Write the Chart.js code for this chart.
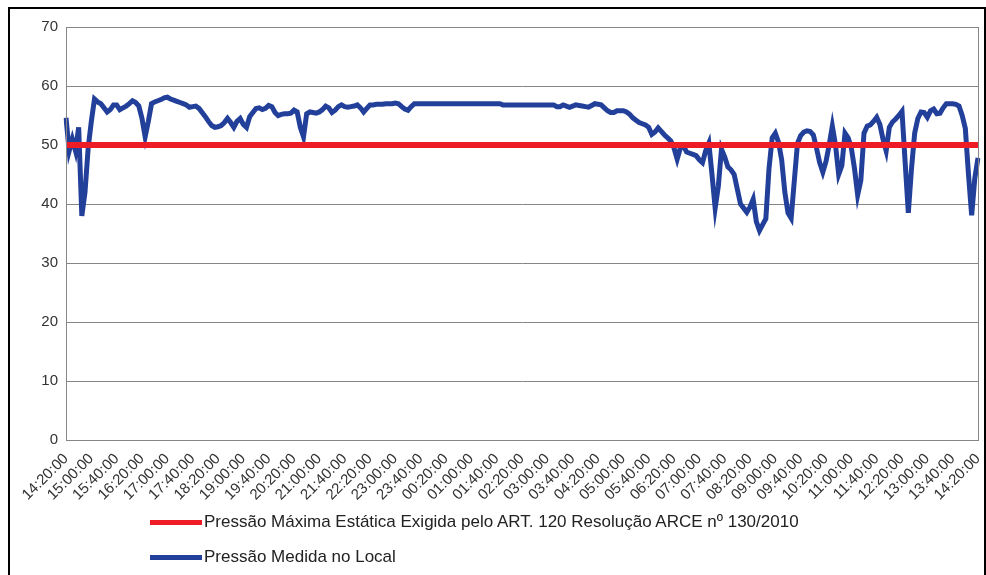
<!DOCTYPE html>
<html>
<head>
<meta charset="utf-8">
<script src="https://cdn.jsdelivr.net/npm/chart.js@4/dist/chart.umd.min.js"></script>
<style>
  html, body { margin: 0; padding: 0; background: #fff; }
  #wrap { position: relative; width: 986px; height: 575px; overflow: hidden; }
  #frame { position: absolute; left: 8px; top: 7px; width: 974px; height: 600px;
           border: 2px solid #000; }
  #chart { position: absolute; left: 0; top: 0; }
  #legend { position: absolute; left: 150px; top: 510px; font-family: "Liberation Sans", Arial, sans-serif;
            font-size: 17px; color: #222; }
  .item { display: flex; align-items: center; height: 24px; margin-bottom: 11px; }
  .swatch { width: 52px; height: 5px; margin-right: 2px; }
</style>
</head>
<body>
<div id="wrap">
  <div id="frame"></div>
  <canvas id="chart" width="986" height="575"></canvas>
  <div id="legend"></div>
</div>
<script>
// 5-minute readings from 14:20 to 14:20 next day
const startTime = '14:20:00'
const stepMinutes = 5

const limitLabel = 'Pressão Máxima Estática Exigida pelo ART. 120 Resolução ARCE nº 130/2010'
const measuredLabel = 'Pressão Medida no Local'
const limitValue = 50

const measured = [
  54.6, 49, 51, 49, 53, 38, 42, 49.5, 54, 57.8,
  57.3, 57, 56.3, 55.6, 56, 56.8, 56.8, 56, 56.3, 56.6,
  57, 57.5, 57.2, 56.6, 54.5, 51.4, 54, 57, 57.3, 57.5,
  57.7, 58, 58.1, 57.8, 57.6, 57.4, 57.2, 57, 56.8, 56.4,
  56.5, 56.6, 56.2, 55.5, 54.8, 54, 53.3, 53, 53.1, 53.3,
  53.8, 54.5, 53.8, 53, 54, 54.5, 53.5, 53, 54.8, 55.5,
  56.2, 56.3, 56, 56.2, 56.7, 56.5, 55.5, 55, 55.2, 55.3,
  55.3, 55.4, 55.9, 55.6, 53, 51.4, 55.3, 55.6, 55.5, 55.4,
  55.6, 56, 56.6, 56.3, 55.5, 55.9, 56.5, 56.8, 56.5, 56.4,
  56.5, 56.6, 56.8, 56.3, 55.6, 56.2, 56.8, 56.8, 56.9, 56.9,
  56.9, 57, 57, 57, 57.1, 57, 56.5, 56.1, 55.9, 56.5,
  57, 57, 57, 57, 57, 57, 57, 57, 57, 57,
  57, 57, 57, 57, 57, 57, 57, 57, 57, 57,
  57, 57, 57, 57, 57, 57, 57, 57, 56.8, 56.8,
  56.8, 56.8, 56.8, 56.8, 56.8, 56.8, 56.8, 56.8, 56.8, 56.8,
  56.8, 56.8, 56.8, 56.8, 56.8, 56.5, 56.5, 56.8, 56.6, 56.4,
  56.6, 56.8, 56.7, 56.6, 56.5, 56.4, 56.7, 57, 56.9, 56.8,
  56.3, 55.8, 55.5, 55.5, 55.8, 55.8, 55.8, 55.6, 55.2, 54.6,
  54.2, 53.8, 53.6, 53.4, 53, 51.8, 52.2, 52.9, 52.3, 51.7,
  51.2, 50.7, 49.5, 47.6, 49.5, 49.8, 48.8, 48.6, 48.4, 48.2,
  47.5, 47, 49, 50.3, 45, 39.3, 43, 49.3, 48, 46.3,
  45.8, 45, 42.5, 40, 39.3, 38.6, 39.5, 40.8, 37, 35.5,
  36.5, 37.5, 46, 51.2, 52, 50.5, 47.5, 42, 38.5, 37.6,
  44, 50.3, 51.6, 52.2, 52.4, 52.3, 51.7, 49.5, 47, 45.4,
  47.2, 50, 53.2, 50, 45, 46.5, 52, 51.2, 49.5, 46,
  41.5, 44, 52, 53.2, 53.4, 54, 54.7, 53.5, 51, 49,
  53, 53.9, 54.4, 55, 55.7, 47, 38.5, 46, 52, 54.5,
  55.6, 55.5, 54.7, 55.8, 56.1, 55.3, 55.4, 56.3, 57, 57,
  57, 56.9, 56.6, 55, 52.8, 45, 38.1, 44.4, 47.8
]

const yTicks = [0, 10, 20, 30, 40, 50, 60, 70]
const labelEvery = 8 // one label per 40 minutes

const labels = measured.map((v, i) => {
  const [h, m] = startTime.split(':').map(Number)
  const t = (h * 60 + m + i * stepMinutes) % 1440
  return String(Math.floor(t / 60)).padStart(2, '0') + ':' + String(t % 60).padStart(2, '0') + ':00'
})
const limit = measured.map(() => limitValue)

const frameBox = {
  id: 'frameBox',
  afterDraw(chart) {
    const { ctx, chartArea } = chart
    ctx.save()
    ctx.strokeStyle = '#868686'
    ctx.lineWidth = 1
    ctx.strokeRect(chartArea.left + 0.5, chartArea.top + 0.5, chartArea.right - chartArea.left, chartArea.bottom - chartArea.top)
    ctx.restore()
  }
}

const chart = new Chart(document.getElementById('chart'), {
  type: 'line',
  data: {
    labels: labels,
    datasets: [
      { label: limitLabel, data: limit, borderColor: '#ee1c25', borderWidth: 6, pointRadius: 0, tension: 0 },
      { label: measuredLabel, data: measured, borderColor: '#22409a', borderWidth: 5, pointRadius: 0, tension: 0 }
    ]
  },
  options: {
    responsive: false,
    animation: false,
    layout: { padding: { top: 27, right: 8, bottom: 60, left: 0 } },
    plugins: { legend: { display: false }, tooltip: { enabled: false } },
    scales: {
      x: {
        offset: false,
        grid: { display: false, drawTicks: false },
        border: { color: '#868686' },
        afterFit(scale) {
          scale.height = 75
          scale.paddingLeft = 0
          scale.paddingRight = 0
        },
        ticks: {
          autoSkip: false, maxRotation: 45, minRotation: 45, padding: 10,
          color: '#333', font: { family: 'Liberation Sans', size: 15 },
          callback(val, i) { return i % labelEvery === 0 ? labels[i] : '' }
        }
      },
      y: {
        min: 0, max: 70,
        afterFit(scale) { scale.width = 66 },
        afterBuildTicks(scale) { scale.ticks = yTicks.map(v => ({ value: v })) },
        grid: { color: '#868686', drawTicks: false },
        border: { color: '#868686' },
        ticks: { padding: 8, color: '#333', font: { family: 'Liberation Sans', size: 15 } }
      }
    }
  },
  plugins: [frameBox]
})

const legend = document.getElementById('legend')
chart.data.datasets.forEach(ds => {
  const item = document.createElement('div')
  item.className = 'item'
  item.innerHTML = '<span class="swatch" style="background:' + ds.borderColor + '"></span><span>' + ds.label + '</span>'
  legend.appendChild(item)
})
</script>
</body>
</html>
